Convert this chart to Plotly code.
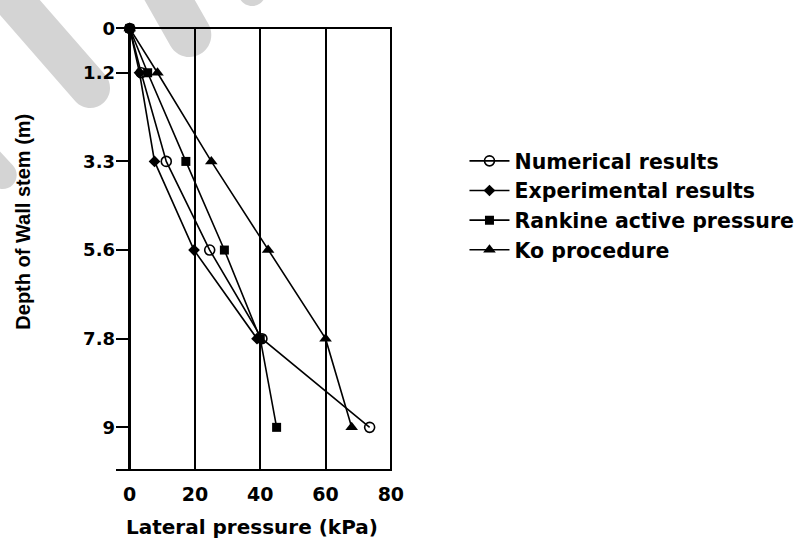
import plotly.graph_objects as go

# ---- data ----
depth_labels = ["0", "1.2", "3.3", "5.6", "7.8", "9"]
# the original draws the depth levels as rows (first half-spaced, then evenly spaced)
depth_rows = [0, 0.5, 1.5, 2.5, 3.5, 4.5]

numerical = [0, 3.5, 11.2, 24.5, 40.5, 73.5]
experimental = [0, 3.0, 7.6, 19.7, 39.0, None]
rankine = [0, 5.5, 17.2, 29.0, 40.0, 45.0]
ko_proc = [0, 8.5, 25.0, 42.4, 60.0, 68.0]

x_ticks = [0, 20, 40, 60, 80]

series_names = ["Numerical results", "Experimental results",
                "Rankine active pressure", "Ko procedure"]

# ---- layout geometry (pixels) ----
W, H = 812, 542
L, R, T, B = 116, 394, 28, 469

def px2paper(px, py):
    return ((px - L) / (R - L), (B - py) / (B - T))

def capsule(p1, p2, hw):
    import math
    dx, dy = p2[0] - p1[0], p2[1] - p1[1]
    n = math.hypot(dx, dy)
    dx, dy = dx / n, dy / n
    nx, ny = -dy, dx
    k = 0.55 * hw
    def P(x, y):
        a, b = px2paper(x, y)
        return f"{a:.4f},{b:.4f}"
    a1 = (p1[0] + nx * hw, p1[1] + ny * hw)
    a2 = (p2[0] + nx * hw, p2[1] + ny * hw)
    tip2 = (p2[0] + dx * hw, p2[1] + dy * hw)
    b2 = (p2[0] - nx * hw, p2[1] - ny * hw)
    b1 = (p1[0] - nx * hw, p1[1] - ny * hw)
    tip1 = (p1[0] - dx * hw, p1[1] - dy * hw)
    path = (f"M{P(*a1)} L{P(*a2)} "
            f"C{P(a2[0] + dx * k, a2[1] + dy * k)} {P(tip2[0] + nx * k, tip2[1] + ny * k)} {P(*tip2)} "
            f"C{P(tip2[0] - nx * k, tip2[1] - ny * k)} {P(b2[0] + dx * k, b2[1] + dy * k)} {P(*b2)} "
            f"L{P(*b1)} "
            f"C{P(b1[0] - dx * k, b1[1] - dy * k)} {P(tip1[0] - nx * k, tip1[1] - ny * k)} {P(*tip1)} "
            f"C{P(tip1[0] + nx * k, tip1[1] + ny * k)} {P(a1[0] - dx * k, a1[1] - dy * k)} {P(*a1)} Z")
    return path

fig = go.Figure()

styles = [
    dict(symbol="circle-open", size=10, color="black", line=dict(width=1.6, color="black")),
    dict(symbol="diamond", size=9, color="black"),
    dict(symbol="square", size=9, color="black"),
    dict(symbol="triangle-up", size=11, color="black"),
]
for name, vals, mk in zip(series_names, [numerical, experimental, rankine, ko_proc], styles):
    fig.add_trace(go.Scatter(
        x=vals, y=depth_rows, name=name, mode="lines+markers",
        line=dict(color="black", width=1.6), marker=mk,
        cliponaxis=False, legendgroup=name, connectgaps=False,
    ))

# faint grey watermark bands of the scanned original
band_color = "rgba(205,205,205,0.85)"
shapes = []
for p1, p2, hw in [((-5, -20), (90, 88), 20),
                   ((150, -35), (190, 35), 22),
                   ((240, -40), (253, -8), 14),
                   ((-40, 130), (2, 175), 14)]:
    shapes.append(dict(type="path", xref="paper", yref="paper",
                       path=capsule(p1, p2, hw), fillcolor=band_color,
                       line=dict(width=0), layer="below"))

font_w = dict(family="DejaVu Sans", weight="bold", color="black")

fig.update_layout(
    width=W, height=H,
    margin=dict(l=L, r=W - R, t=T, b=H - B, pad=0),
    paper_bgcolor="white", plot_bgcolor="white",
    shapes=shapes,
    showlegend=True,
    legend=dict(
        x=px2paper(467, 0)[0], y=px2paper(0, 141)[1],
        xanchor="left", yanchor="top",
        bgcolor="rgba(0,0,0,0)",
        font=dict(size=20.5, **font_w),
        tracegroupgap=0, itemwidth=40,
    ),
    xaxis=dict(
        range=[-4.2, 80.35], tickmode="array", tickvals=x_ticks,
        ticktext=[str(v) for v in x_ticks],
        showgrid=True, gridcolor="black", gridwidth=2,
        zeroline=True, zerolinecolor="black", zerolinewidth=3,
        showline=True, linecolor="black", linewidth=2,
        ticks="", ticklabelstandoff=7,
        tickfont=dict(size=19, **font_w),
        fixedrange=True,
    ),
    yaxis=dict(
        range=[4.97, -0.005], tickmode="array", tickvals=depth_rows,
        ticktext=depth_labels,
        showgrid=False,
        zeroline=True, zerolinecolor="black", zerolinewidth=2,
        showline=False,
        ticks="inside", ticklen=14, tickwidth=1.5, tickcolor="black",
        tickfont=dict(size=18, **font_w),
        fixedrange=True,
    ),
    annotations=[
        dict(text="Lateral pressure (kPa)", xref="paper", yref="paper",
             x=px2paper(253, 0)[0], y=px2paper(0, 527)[1],
             xanchor="center", yanchor="middle", showarrow=False,
             font=dict(size=20, **font_w)),
        dict(text="Depth of Wall stem (m)", xref="paper", yref="paper",
             x=px2paper(22, 0)[0], y=px2paper(0, 222)[1],
             xanchor="center", yanchor="middle", showarrow=False, textangle=-90,
             font=dict(size=20, family="Liberation Sans", weight="bold", color="black")),
    ],
)

fig.write_html("out.html")
